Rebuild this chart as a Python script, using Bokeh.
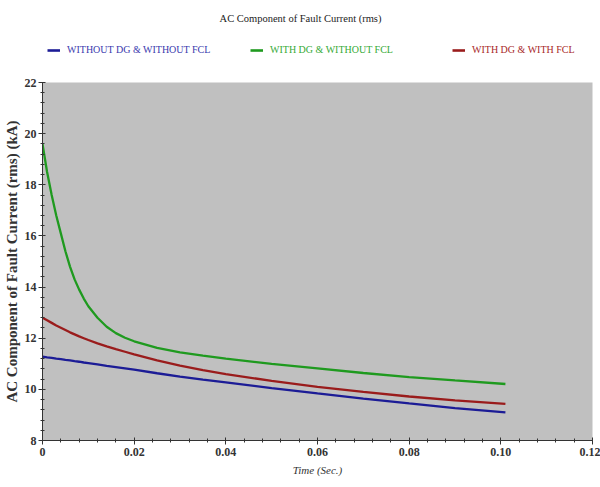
from bokeh.plotting import figure
from bokeh.models import Legend, LegendItem, FixedTicker, Range1d, Label
from bokeh.layouts import column
from bokeh.embed import file_html
from bokeh.resources import INLINE

# ---- data ----
time_s = [0, 0.001, 0.002, 0.003, 0.004, 0.005, 0.006, 0.007, 0.008, 0.009, 0.010,
          0.012, 0.014, 0.016, 0.018, 0.020, 0.025, 0.030, 0.035, 0.040,
          0.050, 0.060, 0.070, 0.080, 0.090, 0.101]
without_dg_without_fcl = [11.28, 11.25, 11.23, 11.20, 11.18, 11.15, 11.13, 11.10, 11.08, 11.05, 11.03,
                          10.98, 10.92, 10.87, 10.82, 10.77, 10.63, 10.50, 10.38, 10.27,
                          10.05, 9.84, 9.64, 9.45, 9.27, 9.10]
with_dg_without_fcl = [19.6, 18.5, 17.6, 16.8, 16.1, 15.4, 14.8, 14.3, 13.9, 13.55, 13.25,
                       12.8, 12.45, 12.2, 12.02, 11.88, 11.62, 11.45, 11.32, 11.2,
                       11.0, 10.82, 10.64, 10.48, 10.35, 10.21]
with_dg_with_fcl = [12.8, 12.7, 12.6, 12.5, 12.41, 12.32, 12.23, 12.15, 12.07, 12.0, 11.93,
                    11.8, 11.68, 11.57, 11.47, 11.37, 11.13, 10.93, 10.75, 10.6,
                    10.33, 10.1, 9.9, 9.72, 9.57, 9.43]

series_names = ["WITHOUT DG & WITHOUT FCL", "WITH DG & WITHOUT FCL", "WITH DG & WITH FCL"]
chart_title = "AC Component of Fault Current (rms)"
x_ticks = [0, 0.02, 0.04, 0.06, 0.08, 0.10, 0.12]
x_tick_labels = ["0", "0.02", "0.04", "0.06", "0.08", "0.10", "0.12"]
y_ticks = [8, 10, 12, 14, 16, 18, 20, 22]

line_colors = ["#1c1c96", "#1f9a1f", "#9a1c1c"]
text_colors = ["#3a3aae", "#36aa36", "#a82828"]
SERIF = "Liberation Serif"

series = [without_dg_without_fcl, with_dg_without_fcl, with_dg_with_fcl]

# ---------------- header: title + legend ----------------
# frame spans 42..592 px (same as main plot); ranges put the series lines
# (used only for the legend glyphs) outside the view
hdr = figure(width=600, height=70, output_backend="svg", toolbar_location=None,
             x_range=Range1d(1000, 1550), y_range=Range1d(1000, 1070),
             x_axis_location=None, y_axis_location=None,
             min_border_left=42, min_border_right=8,
             min_border_top=0, min_border_bottom=0)
hdr.grid.visible = False
hdr.outline_line_color = None
hdr.background_fill_color = "white"
hdr.border_fill_color = "white"

hdr.add_layout(Label(x=1258, y=1052, text=chart_title, text_align="center", text_baseline="middle",
                     text_font=SERIF, text_font_size="10.5px", text_color="#222222"))

legend_x = [5, 208, 410]
for name, vals, lc, tc, lx in zip(series_names, series, line_colors, text_colors, legend_x):
    r = hdr.line(time_s, vals, line_color=lc, line_width=2.6)
    leg = Legend(items=[LegendItem(label=name, renderers=[r])], location=(lx, 15),
                 orientation="horizontal", background_fill_alpha=0, border_line_color=None,
                 label_text_font=SERIF, label_text_font_size="10px", label_text_color=tc,
                 glyph_width=13, glyph_height=10, label_standoff=7, padding=0, margin=0)
    hdr.add_layout(leg, "center")

# ---------------- main plot ----------------
p = figure(width=600, height=417, output_backend="svg", toolbar_location=None,
           x_range=Range1d(0, 0.12), y_range=Range1d(8, 22),
           min_border_left=42, min_border_right=8, min_border_top=12, min_border_bottom=47)

p.background_fill_color = "#c0c0c0"
p.border_fill_color = "white"
p.outline_line_color = None
p.grid.visible = False

for vals, c in zip(series, line_colors):
    p.line(time_s, vals, line_color=c, line_width=2.3)

p.xaxis.ticker = FixedTicker(ticks=x_ticks, minor_ticks=[i * 0.004 for i in range(31)])
p.xaxis.major_label_overrides = {t: l for t, l in zip(x_ticks, x_tick_labels)}
p.yaxis.ticker = FixedTicker(ticks=y_ticks, minor_ticks=[8 + i * 0.4 for i in range(36)])
for ax in (p.xaxis, p.yaxis):
    ax.axis_line_color = "#333333"
    ax.major_tick_line_color = "#333333"
    ax.minor_tick_line_color = "#333333"
    ax.major_tick_in = 3
    ax.major_tick_out = 4
    ax.minor_tick_in = 2
    ax.minor_tick_out = 2
    ax.major_label_text_font = SERIF
    ax.major_label_text_font_size = "12px"
    ax.major_label_text_font_style = "bold"
    ax.major_label_text_color = "#333333"
    ax.axis_label_text_font = SERIF
    ax.axis_label_text_color = "#333333"

p.yaxis.axis_label = "AC Component of Fault Current (rms) (kA)"
p.yaxis.axis_label_text_font_size = "15px"
p.yaxis.axis_label_text_font_style = "bold"
p.yaxis.axis_label_standoff = 2
p.yaxis.major_label_standoff = 2
p.xaxis.axis_label = "Time (Sec.)"
p.xaxis.axis_label_text_font_size = "11px"
p.xaxis.axis_label_text_font_style = "italic"
p.xaxis.axis_label_standoff = 5
p.xaxis.major_label_standoff = 3

layout = column(hdr, p, spacing=0)
open("out.html", "w").write(file_html(layout, INLINE))
